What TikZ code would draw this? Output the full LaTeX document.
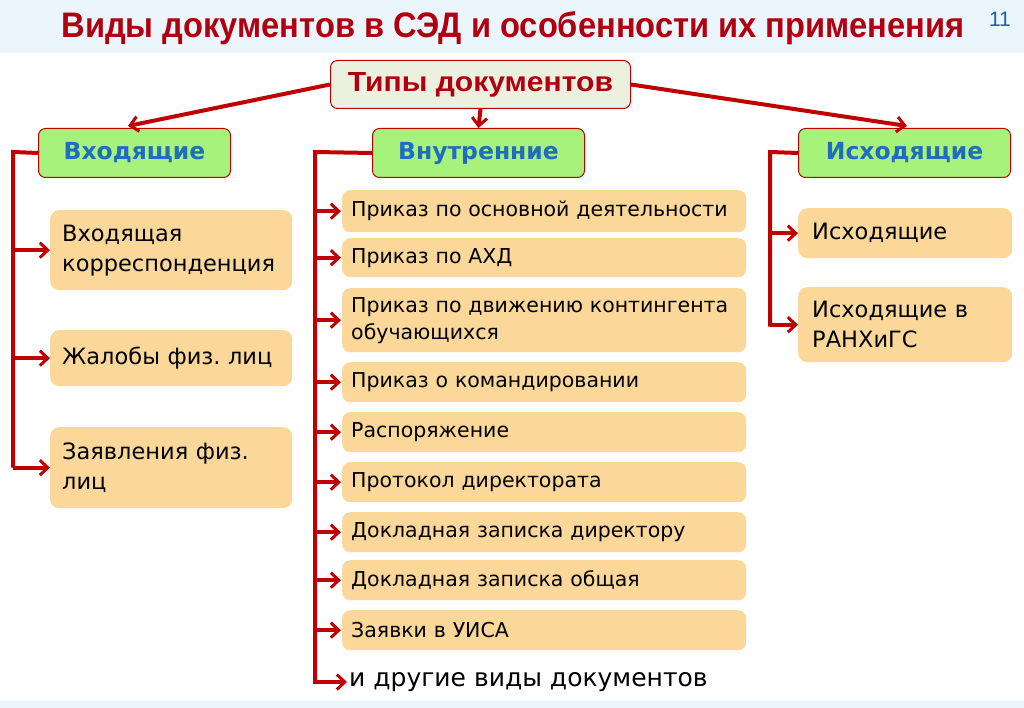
\documentclass[tikz,border=0pt]{standalone}
\usepackage{fontspec}
\setmainfont{DejaVu Sans}
\newfontfamily\titlefont{Liberation Sans}
\usetikzlibrary{arrows.meta}
\definecolor{arrred}{HTML}{C00000}
\definecolor{ttlred}{HTML}{B00010}
\definecolor{band}{HTML}{EAF5FC}
\definecolor{itemfill}{HTML}{FBD89A}
\definecolor{catfill}{HTML}{A6F27A}
\definecolor{topfill}{HTML}{EBF1DE}
\definecolor{catblue}{HTML}{1F6CC0}
\definecolor{numblue}{HTML}{1F5FA8}
\frenchspacing
\tikzset{
  x=1pt,y=-1pt,
  conn/.style={draw=arrred,line width=4pt,-{Straight Barb[length=8pt,width=15pt,line width=3pt]}},
  trunk/.style={draw=arrred,line width=4pt},
  catbox/.style={draw=arrred,line width=1pt,fill=catfill,rounded corners=7pt,minimum height=49pt,text=catblue,font=\fontsize{23.5}{28}\selectfont\bfseries,anchor=north west,inner sep=0pt},
  itembox/.style={fill=itemfill,rounded corners=9pt,anchor=north west,inner sep=0pt,align=left,font=\fontsize{22.5}{30}\selectfont},
  sitem/.style={fill=itemfill,rounded corners=8pt,anchor=north west,inner sep=0pt,align=left,font=\fontsize{20.5}{27}\selectfont,minimum width=404pt,text width=386pt,inner xsep=9pt},
}
\begin{document}
\begin{tikzpicture}
\useasboundingbox (0,0) rectangle (1024,708);
\fill[white] (0,0) rectangle (1024,708);
\fill[band] (0,0) rectangle (1024,53);
\fill[band] (0,701) rectangle (1024,708);
\node (title) at (513,28) {\resizebox{903pt}{26pt}{\titlefont\bfseries\color{ttlred}Виды документов в СЭД и особенности их применения}};
\node[text=numblue,font=\titlefont\fontsize{21}{24}\selectfont] (num) at (1000,19) {11};

\node[draw=arrred,line width=1pt,fill=topfill,rounded corners=7pt,minimum width=300pt,minimum height=48pt,anchor=north west,inner sep=0pt] (top) at (330,60) {\resizebox{265pt}{19pt}{\titlefont\bfseries\color{ttlred}Типы документов}};

\node[catbox,minimum width=192pt] (inc) at (38,128) {Входящие};
\node[catbox,minimum width=212pt] (int) at (372,128) {Внутренние};
\node[catbox,minimum width=212pt] (out) at (798,128) {Исходящие};

\coordinate (incTop) at (128,126);
\coordinate (outTop) at (907,126);
\draw[conn] (top.west) -- (incTop);
\draw[conn] (top.south) -- (int.north);
\draw[conn] (top.east) -- (outTop);

% left items
\node[itembox,minimum width=242pt,minimum height=80pt,text width=218pt,inner xsep=12pt] (l1) at (50,210) {Входящая\\корреспонденция};
\node[itembox,minimum width=242pt,minimum height=56pt,text width=218pt,inner xsep=12pt] (l2) at (50,330) {Жалобы физ. лиц};
\node[itembox,minimum width=242pt,minimum height=81pt,text width=218pt,inner xsep=12pt] (l3) at (50,427) {Заявления физ.\\лиц};

% middle items
\node[sitem,minimum height=42pt] (m1) at (342,190) {Приказ по основной деятельности};
\node[sitem,minimum height=39pt] (m2) at (342,238) {Приказ по АХД};
\node[sitem,minimum height=64pt] (m3) at (342,288) {Приказ по движению контингента\\обучающихся};
\node[sitem,minimum height=40pt] (m4) at (342,362) {Приказ о командировании};
\node[sitem,minimum height=40pt] (m5) at (342,412) {Распоряжение};
\node[sitem,minimum height=40pt] (m6) at (342,462) {Протокол директората};
\node[sitem,minimum height=40pt] (m7) at (342,512) {Докладная записка директору};
\node[sitem,minimum height=40pt] (m8) at (342,560) {Докладная записка общая};
\node[sitem,minimum height=40pt] (m9) at (342,610) {Заявки в УИСА};
\node[anchor=west,inner sep=0pt,font=\fontsize{25}{30}\selectfont] (m10) at (349,682) {и другие виды документов};

% right items
\node[itembox,minimum width=214pt,minimum height=50pt,text width=186pt,inner xsep=14pt] (r1) at (798,208) {Исходящие};
\node[itembox,minimum width=214pt,minimum height=75pt,text width=186pt,inner xsep=14pt] (r2) at (798,287) {Исходящие в\\РАНХиГС};

% trunks
\coordinate (lt) at (13,152);
\coordinate (mt) at (315,152);
\coordinate (rt) at (770,152);
\draw[trunk] (inc.west) -- (lt) -- (13,467.5);
\draw[trunk] (int.west) -- (mt) -- (315,684);
\draw[trunk] (out.west) -- (rt) -- (770,326.5);

\foreach \n in {l1,l2,l3} \draw[conn] (lt |- \n.west) -- (\n.west);
\foreach \n in {m1,m2,m3,m4,m5,m6,m7,m8,m9} \draw[conn] (mt |- \n.west) -- ([xshift=-1pt]\n.west);
\draw[conn] (mt |- m10.west) -- ([xshift=-2pt]m10.west);
\foreach \n in {r1,r2} \draw[conn] (rt |- \n.west) -- (\n.west);
\end{tikzpicture}
\end{document}
